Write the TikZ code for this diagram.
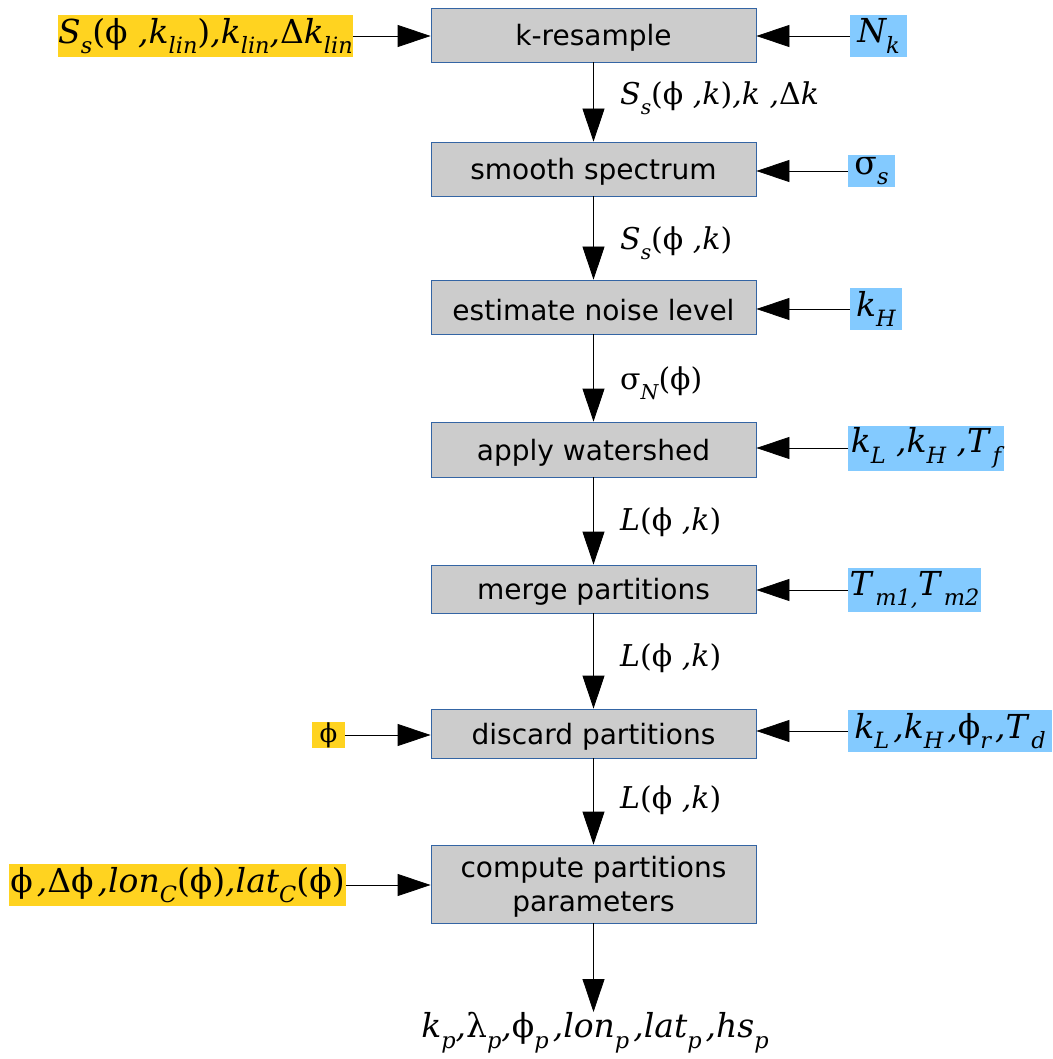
\documentclass[tikz,border=0pt]{standalone}
\usepackage{fontspec}
\setmainfont{DejaVu Sans}
\newfontfamily\mth{DejaVu Serif}
\usetikzlibrary{arrows.meta}
\definecolor{boxgray}{HTML}{CCCCCC}
\definecolor{boxblue}{HTML}{3465A4}
\definecolor{inyel}{HTML}{FFD320}
\definecolor{inblue}{HTML}{83CAFF}
\newcommand\sbx[1]{\raisebox{-0.32em}{\scalebox{0.68}{#1}}}
\newcommand\upr[1]{{\upshape #1}}
\newcommand\cm{\kern4pt,}
\newcommand\bt[1]{\raisebox{-3pt}[\height][\depth]{#1}}
\begin{document}
\begin{tikzpicture}[x=1pt,y=1pt,
  proc/.style={draw=boxblue, fill=boxgray, line width=0.8pt, minimum width=325pt,
     inner sep=0pt, align=center, font=\fontsize{28}{34}\selectfont},
  yin/.style={fill=inyel, inner sep=0pt, font=\mth\itshape\fontsize{33}{36}\selectfont},
  bin/.style={fill=inblue, inner sep=0pt, font=\mth\itshape\fontsize{33}{36}\selectfont},
  lab/.style={inner sep=0pt, anchor=west, font=\mth\itshape\fontsize{30}{32}\selectfont},
  arr/.style={-{Triangle[length=33pt,width=22pt]}, line width=0.8pt, draw=black}]
\useasboundingbox (0,0) rectangle (1052,-1059);
% process boxes
\node[proc, minimum height=54pt] (b1) at (593.5,-35) {\bt{k-resample}};
\node[proc, minimum height=54pt] (b2) at (593.5,-169) {\bt{smooth spectrum}};
\node[proc, minimum height=54pt] (b3) at (593.5,-307) {\bt{estimate noise level}};
\node[proc, minimum height=55pt] (b4) at (593.5,-449.5) {\bt{apply watershed}};
\node[proc, minimum height=48pt] (b5) at (593.5,-589) {\bt{merge partitions}};
\node[proc, minimum height=49pt] (b6) at (593.5,-733.5) {\bt{discard partitions}};
\node[proc, minimum height=78pt] (b7) at (593.5,-884) {\bt{compute partitions}\\\bt{parameters}};
% left inputs
\node[yin, minimum width=295pt, minimum height=42pt] (y1) at (205.5,-36)
  {S\sbx{s}\upr{(ϕ} ,k\sbx{lin}\upr{)},k\sbx{lin},\upr{Δ}k\sbx{lin}};
\node[yin, minimum width=33pt, minimum height=22pt, font=\mth\fontsize{26}{26}\selectfont] (y2) at (328.5,-735) {ϕ};
\node[yin, minimum width=337pt, minimum height=42pt] (y3) at (177.5,-885)
  {\upr{ϕ}\cm\upr{Δϕ}\cm lon\sbx{C}\upr{(ϕ)},lat\sbx{C}\upr{(ϕ)}};
% right inputs
\node[bin, minimum width=57pt, minimum height=42pt] (r1) at (878.5,-36) {N\sbx{k}};
\node[bin, minimum width=47pt, minimum height=32pt] (r2) at (871.5,-171) {\upr{σ}\sbx{s}};
\node[bin, minimum width=52pt, minimum height=42pt] (r3) at (876,-309) {k\sbx{H}};
\node[bin, minimum width=156pt, minimum height=45pt] (r4) at (926,-448) {k\sbx{L} ,k\sbx{H} ,T\sbx{\,f}};
\node[bin, minimum width=133pt, minimum height=44pt] (r5) at (914.5,-590) {T\sbx{\,m1,}T\sbx{\,m2}};
\node[bin, minimum width=204pt, minimum height=42pt] (r6) at (950,-731) {k\sbx{L}\cm k\sbx{H}\cm\upr{ϕ}\sbx{r}\cm T\sbx{\,d}};
% arrow labels
\node[lab] (l1) at (620,-98) {S\sbx{s}\upr{(ϕ} ,k\upr{)},k ,\upr{Δ}k};
\node[lab] (l2) at (620,-243) {S\sbx{s}\upr{(ϕ} ,k\upr{)}};
\node[lab] (l3) at (620,-383) {\upr{σ}\sbx{N}\upr{(ϕ)}};
\node[lab] (l4) at (620,-522) {L\upr{(ϕ} ,k\upr{)}};
\node[lab] (l5) at (620,-658) {L\upr{(ϕ} ,k\upr{)}};
\node[lab] (l6) at (620,-800) {L\upr{(ϕ} ,k\upr{)}};
% output
\node[inner sep=0pt, anchor=north, font=\mth\itshape\fontsize{33}{36}\selectfont] (out) at (595,-1012)
  {k\sbx{p},\upr{λ}\sbx{p},\upr{ϕ}\sbx{p}\cm lon\sbx{p}\cm lat\sbx{p}\cm hs\sbx{p}};
% vertical arrows
\draw[arr] (b1.south) -- (b2.north);
\draw[arr] (b2.south) -- (b3.north);
\draw[arr] (b3.south) -- (b4.north);
\draw[arr] (b4.south) -- (b5.north);
\draw[arr] (b5.south) -- (b6.north);
\draw[arr] (b6.south) -- (b7.north);
\draw[arr] (b7.south) -- (b7.south |- out.north);
% input arrows
\draw[arr] (y1.east) -- (y1.east -| b1.west);
\draw[arr] (y2.east) -- (y2.east -| b6.west);
\draw[arr] (y3.east) -- (y3.east -| b7.west);
\draw[arr] (r1.west) -- (r1.west -| b1.east);
\draw[arr] (r2.west) -- (r2.west -| b2.east);
\draw[arr] (r3.west) -- (r3.west -| b3.east);
\draw[arr] (r4.west) -- (r4.west -| b4.east);
\draw[arr] (r5.west) -- (r5.west -| b5.east);
\draw[arr] (r6.west) -- (r6.west -| b6.east);
\end{tikzpicture}
\end{document}
